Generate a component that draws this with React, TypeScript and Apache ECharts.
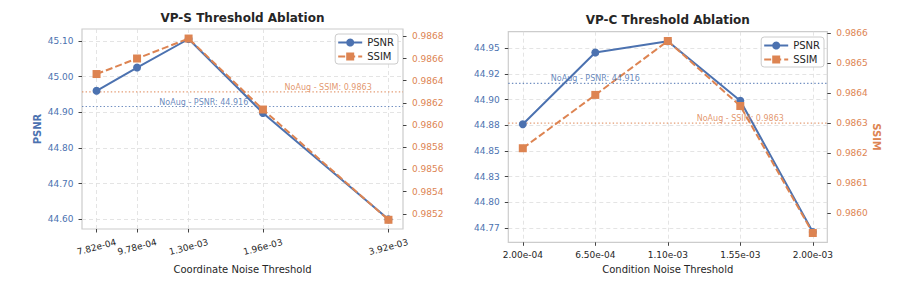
import React, { useEffect, useRef } from "react";
import * as echarts from "echarts";

// ---------- data ----------
const vpsThresholds = [7.82e-4, 9.78e-4, 1.3e-3, 1.96e-3, 3.92e-3];
const vpsThresholdLabels = ["7.82e-04", "9.78e-04", "1.30e-03", "1.96e-03", "3.92e-03"];
const vpsPsnr = [44.96, 45.025, 45.105, 44.898, 44.6];
const vpsSsim = [0.98646, 0.9866, 0.98678, 0.98614, 0.985146];
const vpsPsnrTicks = [44.6, 44.7, 44.8, 44.9, 45.0, 45.1];
const vpsSsimTicks = [0.9852, 0.9854, 0.9856, 0.9858, 0.986, 0.9862, 0.9864, 0.9866, 0.9868];

const vpcThresholds = [2.0e-4, 6.5e-4, 1.1e-3, 1.55e-3, 2.0e-3];
const vpcThresholdLabels = ["2.00e-04", "6.50e-04", "1.10e-03", "1.55e-03", "2.00e-03"];
const vpcPsnr = [44.876, 44.946, 44.957, 44.899, 44.771];
const vpcSsim = [0.986216, 0.986394, 0.986574, 0.986357, 0.985933];
const vpcPsnrTicks = [44.775, 44.8, 44.825, 44.85, 44.875, 44.9, 44.925, 44.95];
const vpcSsimTicks = [0.986, 0.9861, 0.9862, 0.9863, 0.9864, 0.9865, 0.9866];

const noAugPsnr = 44.916;
const noAugSsim = 0.9863;

// ---------- axis extents ----------
const vpsXRange = [7.216e-4, 4.248e-3];
const vpcXRange = [1.1e-4, 2.09e-3];

// ---------- styles ----------
const BLUE = "#4C72B0";
const ORANGE = "#DD8452";
const DARK = "#262626";
const FONT = "DejaVu Sans";

function nearestLabel(values: number[], labels: string[], v: number): string {
  let best = 0;
  for (let i = 1; i < values.length; i++) {
    if (Math.abs(values[i] - v) < Math.abs(values[best] - v)) best = i;
  }
  return labels[best];
}

const splitLineStyle = { show: true, lineStyle: { type: [4, 3], color: "#dddddd", width: 0.8 } };
const tickStyle = (vals: number[]) => ({
  show: true,
  length: 3.5,
  customValues: vals,
  lineStyle: { color: "#444444", width: 1 },
});

function refLineSeries(
  name: string,
  xAxisIndex: number,
  yAxisIndex: number,
  xRange: number[],
  value: number,
  color: string,
  labelX: number,
  text: string
) {
  return {
    name,
    type: "line",
    xAxisIndex,
    yAxisIndex,
    silent: true,
    symbol: "none",
    data: [
      [xRange[0], value],
      [xRange[1], value],
    ],
    lineStyle: { type: [1.4, 2.2], color, width: 1.2, opacity: 0.8 },
    z: 2,
    markPoint: {
      silent: true,
      symbol: "rect",
      symbolSize: 1,
      itemStyle: { color: "rgba(0,0,0,0)" },
      data: [
        {
          coord: [labelX, value],
          label: {
            show: true,
            position: "top",
            distance: 0,
            formatter: text,
            color,
            opacity: 0.85,
            fontSize: 8,
            fontFamily: FONT,
          },
        },
      ],
    },
  };
}

export default function App() {
  const ref = useRef<HTMLDivElement>(null);

  useEffect(() => {
    document.body.style.margin = "0";
    if (!ref.current) return;
    const chart = echarts.init(ref.current, undefined, { renderer: "svg" });

    const psnrText = `NoAug - PSNR: ${noAugPsnr.toFixed(3)}`;
    const ssimText = `NoAug - SSIM: ${noAugSsim.toFixed(4)}`;

    const legendBase = {
      data: ["PSNR", "SSIM"],
      orient: "vertical",
      itemWidth: 24,
      itemHeight: 10,
      itemGap: 4,
      padding: [3.5, 4, 2.5, 2],
      backgroundColor: "rgba(255,255,255,0.8)",
      borderColor: "#cccccc",
      borderWidth: 1,
      borderRadius: 3,
      textStyle: { fontSize: 10, color: DARK, fontFamily: FONT },
      selectedMode: false,
    };

    const option: any = {
      animation: false,
      backgroundColor: "#ffffff",
      textStyle: { fontFamily: FONT },
      title: [
        {
          text: "VP-S Threshold Ablation",
          left: 242.5,
          top: 12,
          textAlign: "center",
          padding: 0,
          textStyle: { fontSize: 12, fontWeight: "bold", color: DARK, fontFamily: FONT },
        },
        {
          text: "VP-C Threshold Ablation",
          left: 667.8,
          top: 14,
          textAlign: "center",
          padding: 0,
          textStyle: { fontSize: 12, fontWeight: "bold", color: DARK, fontFamily: FONT },
        },
      ],
      legend: [
        { ...legendBase, right: 516, top: 34 },
        { ...legendBase, right: 90, top: 37 },
      ],
      grid: [
        { left: 82, top: 29, width: 321, height: 200, show: true, borderColor: "#cccccc", borderWidth: 1.2, backgroundColor: "transparent" },
        { left: 508.3, top: 31.7, width: 319, height: 210.6, show: true, borderColor: "#cccccc", borderWidth: 1.2, backgroundColor: "transparent" },
      ],
      xAxis: [
        {
          type: "log",
          logBase: 10,
          gridIndex: 0,
          min: vpsXRange[0],
          max: vpsXRange[1],
          name: "Coordinate Noise Threshold",
          nameLocation: "middle",
          nameGap: 35,
          nameTextStyle: { fontSize: 10, color: DARK, fontFamily: FONT },
          axisLine: { show: false },
          axisTick: tickStyle(vpsThresholds),
          axisLabel: {
            customValues: vpsThresholds,
            interval: 0,
            rotate: 15,
            align: "center",
            verticalAlign: "middle",
            margin: 18,
            fontSize: 9,
            color: DARK,
            fontFamily: FONT,
            formatter: (v: number) => nearestLabel(vpsThresholds, vpsThresholdLabels, v),
          },
          splitLine: splitLineStyle,
        },
        {
          type: "value",
          gridIndex: 1,
          min: vpcXRange[0],
          max: vpcXRange[1],
          name: "Condition Noise Threshold",
          nameLocation: "middle",
          nameGap: 22,
          nameTextStyle: { fontSize: 10, color: DARK, fontFamily: FONT },
          axisLine: { show: false },
          axisTick: tickStyle(vpcThresholds),
          axisLabel: {
            customValues: vpcThresholds,
            interval: 0,
            margin: 8,
            fontSize: 9,
            color: DARK,
            fontFamily: FONT,
            formatter: (v: number) => nearestLabel(vpcThresholds, vpcThresholdLabels, v),
          },
          splitLine: splitLineStyle,
        },
      ],
      yAxis: [
        {
          type: "value",
          gridIndex: 0,
          position: "left",
          min: 44.573,
          max: 45.133,
          name: "PSNR",
          nameLocation: "middle",
          nameRotate: 90,
          nameGap: 40,
          nameTextStyle: { fontSize: 10, fontWeight: "bold", color: BLUE, fontFamily: FONT },
          axisLine: { show: false },
          axisTick: tickStyle(vpsPsnrTicks),
          axisLabel: {
            customValues: vpsPsnrTicks,
            margin: 8.5,
            fontSize: 9,
            color: BLUE,
            fontFamily: FONT,
            formatter: (v: number) => v.toFixed(2),
          },
          splitLine: splitLineStyle,
        },
        {
          type: "value",
          gridIndex: 0,
          position: "right",
          min: 0.985063,
          max: 0.986866,
          axisLine: { show: false },
          axisTick: tickStyle(vpsSsimTicks),
          axisLabel: {
            customValues: vpsSsimTicks,
            margin: 9,
            fontSize: 9,
            color: ORANGE,
            fontFamily: FONT,
            formatter: (v: number) => v.toFixed(4),
          },
          splitLine: { show: false },
        },
        {
          type: "value",
          gridIndex: 1,
          position: "left",
          min: 44.761,
          max: 44.9663,
          axisLine: { show: false },
          axisTick: tickStyle(vpcPsnrTicks),
          axisLabel: {
            customValues: vpcPsnrTicks,
            margin: 8.5,
            fontSize: 9,
            color: BLUE,
            fontFamily: FONT,
            formatter: (v: number) => v.toFixed(2),
          },
          splitLine: splitLineStyle,
        },
        {
          type: "value",
          gridIndex: 1,
          position: "right",
          min: 0.985902,
          max: 0.986605,
          name: "SSIM",
          nameLocation: "middle",
          nameRotate: -90,
          nameGap: 44,
          nameTextStyle: { fontSize: 10, fontWeight: "bold", color: ORANGE, fontFamily: FONT },
          axisLine: { show: false },
          axisTick: tickStyle(vpcSsimTicks),
          axisLabel: {
            customValues: vpcSsimTicks,
            margin: 9,
            fontSize: 9,
            color: ORANGE,
            fontFamily: FONT,
            formatter: (v: number) => v.toFixed(4),
          },
          splitLine: { show: false },
        },
      ],
      series: [
        refLineSeries("NoAug PSNR (VP-S)", 0, 0, vpsXRange, noAugPsnr, BLUE, 1.414e-3, psnrText),
        refLineSeries("NoAug SSIM (VP-S)", 0, 1, vpsXRange, noAugSsim, ORANGE, 2.81e-3, ssimText),
        refLineSeries("NoAug PSNR (VP-C)", 1, 2, vpcXRange, noAugPsnr, BLUE, 6.5e-4, psnrText),
        refLineSeries("NoAug SSIM (VP-C)", 1, 3, vpcXRange, noAugSsim, ORANGE, 1.55e-3, ssimText),
        {
          name: "PSNR",
          type: "line",
          xAxisIndex: 0,
          yAxisIndex: 0,
          data: vpsThresholds.map((x, i) => [x, vpsPsnr[i]]),
          symbol: "circle",
          symbolSize: 8,
          lineStyle: { color: BLUE, width: 2 },
          itemStyle: { color: BLUE },
          z: 3,
        },
        {
          name: "SSIM",
          type: "line",
          xAxisIndex: 0,
          yAxisIndex: 1,
          data: vpsThresholds.map((x, i) => [x, vpsSsim[i]]),
          symbol: "rect",
          symbolSize: 8,
          lineStyle: { color: ORANGE, width: 2, type: [7, 3] },
          itemStyle: { color: ORANGE },
          z: 4,
        },
        {
          name: "PSNR",
          type: "line",
          xAxisIndex: 1,
          yAxisIndex: 2,
          data: vpcThresholds.map((x, i) => [x, vpcPsnr[i]]),
          symbol: "circle",
          symbolSize: 8,
          lineStyle: { color: BLUE, width: 2 },
          itemStyle: { color: BLUE },
          z: 3,
        },
        {
          name: "SSIM",
          type: "line",
          xAxisIndex: 1,
          yAxisIndex: 3,
          data: vpcThresholds.map((x, i) => [x, vpcSsim[i]]),
          symbol: "rect",
          symbolSize: 8,
          lineStyle: { color: ORANGE, width: 2, type: [7, 3] },
          itemStyle: { color: ORANGE },
          z: 4,
        },
      ],
    };

    chart.setOption(option);
    return () => chart.dispose();
  }, []);

  return <div ref={ref} style={{ width: 914, height: 286 }} />;
}
